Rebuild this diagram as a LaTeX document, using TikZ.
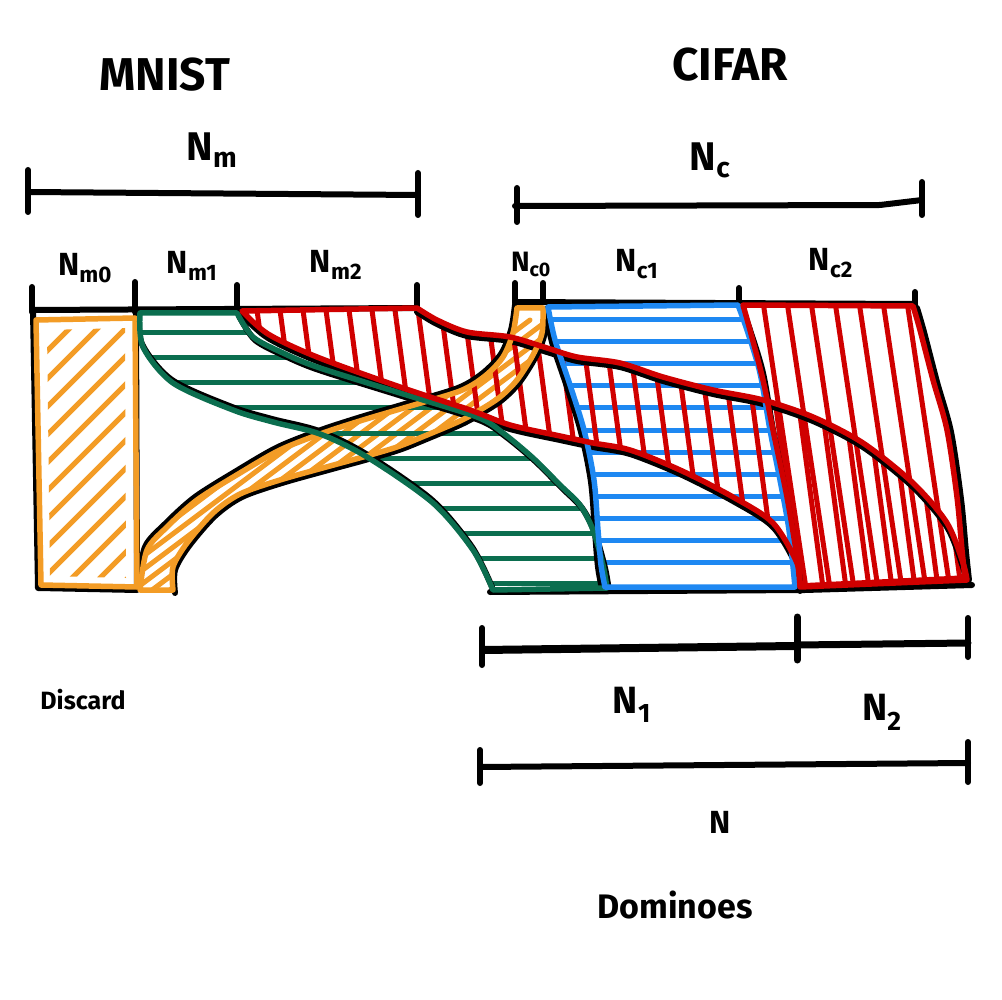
\documentclass[tikz,border=0pt]{standalone}
\usepackage{fontspec}
\setmainfont{Fira Sans}
\definecolor{cor}{HTML}{F39C26}
\definecolor{cgr}{HTML}{0B6E4F}
\definecolor{cre}{HTML}{D00000}
\definecolor{cbl}{HTML}{1E88F2}
\newcommand\lab[2]{#1\textsubscript{#2}}
\newcommand\tworeg[3]{\edef\mytmp{\noexpand\path[#1] plot[smooth] coordinates {#2} -- plot[smooth] coordinates {#3} -- cycle;}\mytmp}
\newcommand\onecurve[2]{\edef\mytmp{\noexpand\path[#1] plot[smooth] coordinates {#2};}\mytmp}
\def\lOU{(140,590) (147,550) (167,527) (197,500) (240,473) (280,450) (323,433) (363,420) (407,407) (460,391) (485,376) (503,357) (513,333) (517,308)}
\def\lOL{(543,308) (542,333) (533,355) (517,380) (500,397) (480,410) (460,421) (427,435) (397,447) (363,457) (330,466) (280,480) (240,494) (213,513) (187,543) (173,567) (173,590)}
\def\lGL{(140,313) (143,347) (173,383) (233,410) (273,422) (320,434) (367,457) (433,503) (473,550) (493,590)}
\def\lGR{(607,588) (603,565) (593,530) (580,505) (560,485) (533,458) (503,433) (477,417) (400,393) (317,367) (283,353) (253,337) (237,313)}
\def\lRU{(417,308) (437,320) (467,332) (510,337) (547,348) (577,357) (620,363) (663,377) (713,390) (763,400) (813,417) (863,443) (913,483) (947,523) (963,563) (967,580)}
\def\lRL{(800,587) (797,563) (773,523) (733,497) (680,470) (630,450) (593,443) (560,436) (510,425) (470,410) (400,387) (317,357) (268,334) (242,311)}
\def\lBL{(548,307) (555,340) (570,385) (584,430) (594,480) (598,530) (601,565) (605,587)}
\def\lBR{(795,587) (789,530) (780,480) (770,430) (760,373) (747,330) (738,305)}
\def\lCL{(743,305) (750,330) (763,380) (773,430) (787,497) (797,557) (800,586)}
\def\lCR{(965,578) (962,550) (957,497) (947,430) (933,380) (920,330) (913,306)}
\begin{document}
\begin{tikzpicture}[x=1pt,y=-1pt,
  blk/.style={draw=black,line width=6pt,line cap=round,line join=round},
  outl/.style={line width=5.5pt,line cap=round,line join=round},
  hat/.style={line width=5pt,line cap=round},
  txt/.style={inner sep=0pt,anchor=center},
]
\fill[white] (0,0) rectangle (1002,1000);
\useasboundingbox (0,0) rectangle (1002,1000);

% ---------- hatching ----------
\begin{scope}
  \clip (47,330) -- (50,576) -- (126,578) -- (125,328) -- cycle;
  \foreach \k in {0,...,12} \draw[hat,cor] (20,350+28*\k) -- ++(130,-130);
\end{scope}
\begin{scope}
  \tworeg{clip}{\lOU}{\lOL}
  \foreach \x in {40,58,...,230} \draw[hat,cor] (\x,620) -- ++(400,-300);
\end{scope}
\begin{scope}
  \tworeg{clip}{\lGL}{\lGR}
  \foreach \y in {333,358,...,583} \draw[hat,cgr] (130,\y) -- (620,\y);
\end{scope}
\begin{scope}
  \tworeg{clip}{\lBL}{\lBR}
  \foreach \y in {320,342,...,566} \draw[hat,cbl] (540,\y) -- (800,\y);
\end{scope}
\begin{scope}
  \tworeg{clip}{\lRU}{\lRL}
  \foreach \x in {232,255,...,980} \draw[hat,cre] (\x,295) -- ++(40,300);
\end{scope}
\begin{scope}
  \tworeg{clip}{\lCL}{\lCR}
  \foreach \x in {738,762,...,980} \draw[hat,cre] (\x,295) -- ++(45,300);
\end{scope}

% ---------- black sketch lines ----------
\draw[blk] (33,311) -- (38,588) -- (137,590) -- (136,310);
\draw[blk] (32,310) -- (417,308);
\draw[blk] (32,287) -- (32,312);
\draw[blk] (135,282) -- (135,312);
\draw[blk] (237,285) -- (237,312);
\draw[blk] (417,285) -- (417,310);
\draw[blk] (515,302) -- (915,304);
\draw[blk] (515,283) -- (515,303);
\draw[blk] (543,283) -- (543,302);
\draw[blk] (739,288) -- (739,304);
\draw[blk] (915,292) -- (915,306);
\draw[blk] (490,592) -- (805,590) -- (972,585);
\onecurve{blk,shift={(-2,-3)}}{\lOU}
\onecurve{blk,shift={(2,3)}}{\lOL}
\onecurve{blk,shift={(-1,-3)}}{\lGL}
\onecurve{blk,shift={(2,3)}}{\lGR}
\onecurve{blk,shift={(0,4)}}{\lRU}
\onecurve{blk,shift={(0,4)}}{\lRL}
\onecurve{blk,shift={(-3,2)}}{\lBL}
\onecurve{blk,shift={(3,0)}}{\lBR}
\onecurve{blk,shift={(4,2)}}{\lCR}

% ---------- coloured outlines ----------
\draw[outl,cor] (36,320) -- (41,585) -- (137,587) -- (135,318) -- cycle;
\tworeg{draw,outl,cor}{\lOU}{\lOL}
\tworeg{draw,outl,cgr}{\lGL}{\lGR}
\tworeg{draw,outl,cbl}{\lBL}{\lBR}
\tworeg{draw,outl,cre}{\lRU}{\lRL}
\tworeg{draw,outl,cre}{\lCL}{\lCR}

% ---------- bars ----------
\draw[blk] (28,192) -- (418,195);
\draw[blk] (28,170) -- (28,212);
\draw[blk] (418,173) -- (418,215);
\draw[blk] (515,206) -- (880,205) -- (922,200);
\draw[blk] (517,188) -- (517,222);
\draw[blk] (922,182) -- (922,215);
\draw[blk,line width=8pt] (483,650) -- (795,646);
\draw[blk,line width=7pt] (797,645) -- (968,643);
\draw[blk] (482,628) -- (482,665);
\draw[blk,line width=7pt] (797,617) -- (797,660);
\draw[blk] (968,618) -- (968,657);
\draw[blk] (480,767) -- (968,763);
\draw[blk] (480,750) -- (480,783);
\draw[blk] (968,742) -- (968,782);

% ---------- labels ----------
\begin{scope}[every node/.append style={font=\bfseries}]
\node[txt,font=\fontsize{46}{52}\selectfont\bfseries] (mnist) at (165,75) {MNIST};
\node[txt,font=\fontsize{46}{52}\selectfont\bfseries] (cifar) at (730,65) {CIFAR};
\node[txt,font=\fontsize{40}{46}\selectfont\bfseries] (nm) at (212,150) {\lab{N}{m}};
\node[txt,font=\fontsize{40}{46}\selectfont\bfseries] (nc) at (710,160) {\lab{N}{c}};
\node[txt,font=\fontsize{32}{38}\selectfont\bfseries] (nm0) at (85,268) {\lab{N}{m0}};
\node[txt,font=\fontsize{32}{38}\selectfont\bfseries] (nm1) at (192,266) {\lab{N}{m1}};
\node[txt,font=\fontsize{32}{38}\selectfont\bfseries] (nm2) at (336,265) {\lab{N}{m2}};
\node[txt,font=\fontsize{28}{34}\selectfont\bfseries] (nc0) at (531,264) {\lab{N}{c0}};
\node[txt,font=\fontsize{32}{38}\selectfont\bfseries] (nc1) at (637,264) {\lab{N}{c1}};
\node[txt,font=\fontsize{32}{38}\selectfont\bfseries] (nc2) at (831,263) {\lab{N}{c2}};
\node[txt,font=\fontsize{38}{44}\selectfont\bfseries] (n1) at (632,705) {\lab{N}{1}};
\node[txt,font=\fontsize{38}{44}\selectfont\bfseries] (n2) at (882,712) {\lab{N}{2}};
\node[txt,font=\fontsize{32}{38}\selectfont\bfseries] (n) at (720,822) {N};
\node[txt,font=\fontsize{34}{40}\selectfont\bfseries] (dom) at (675,905) {Dominoes};
\node[txt,font=\fontsize{25}{30}\selectfont\bfseries] (disc) at (83,700) {Discard};
\end{scope}
\end{tikzpicture}
\end{document}
